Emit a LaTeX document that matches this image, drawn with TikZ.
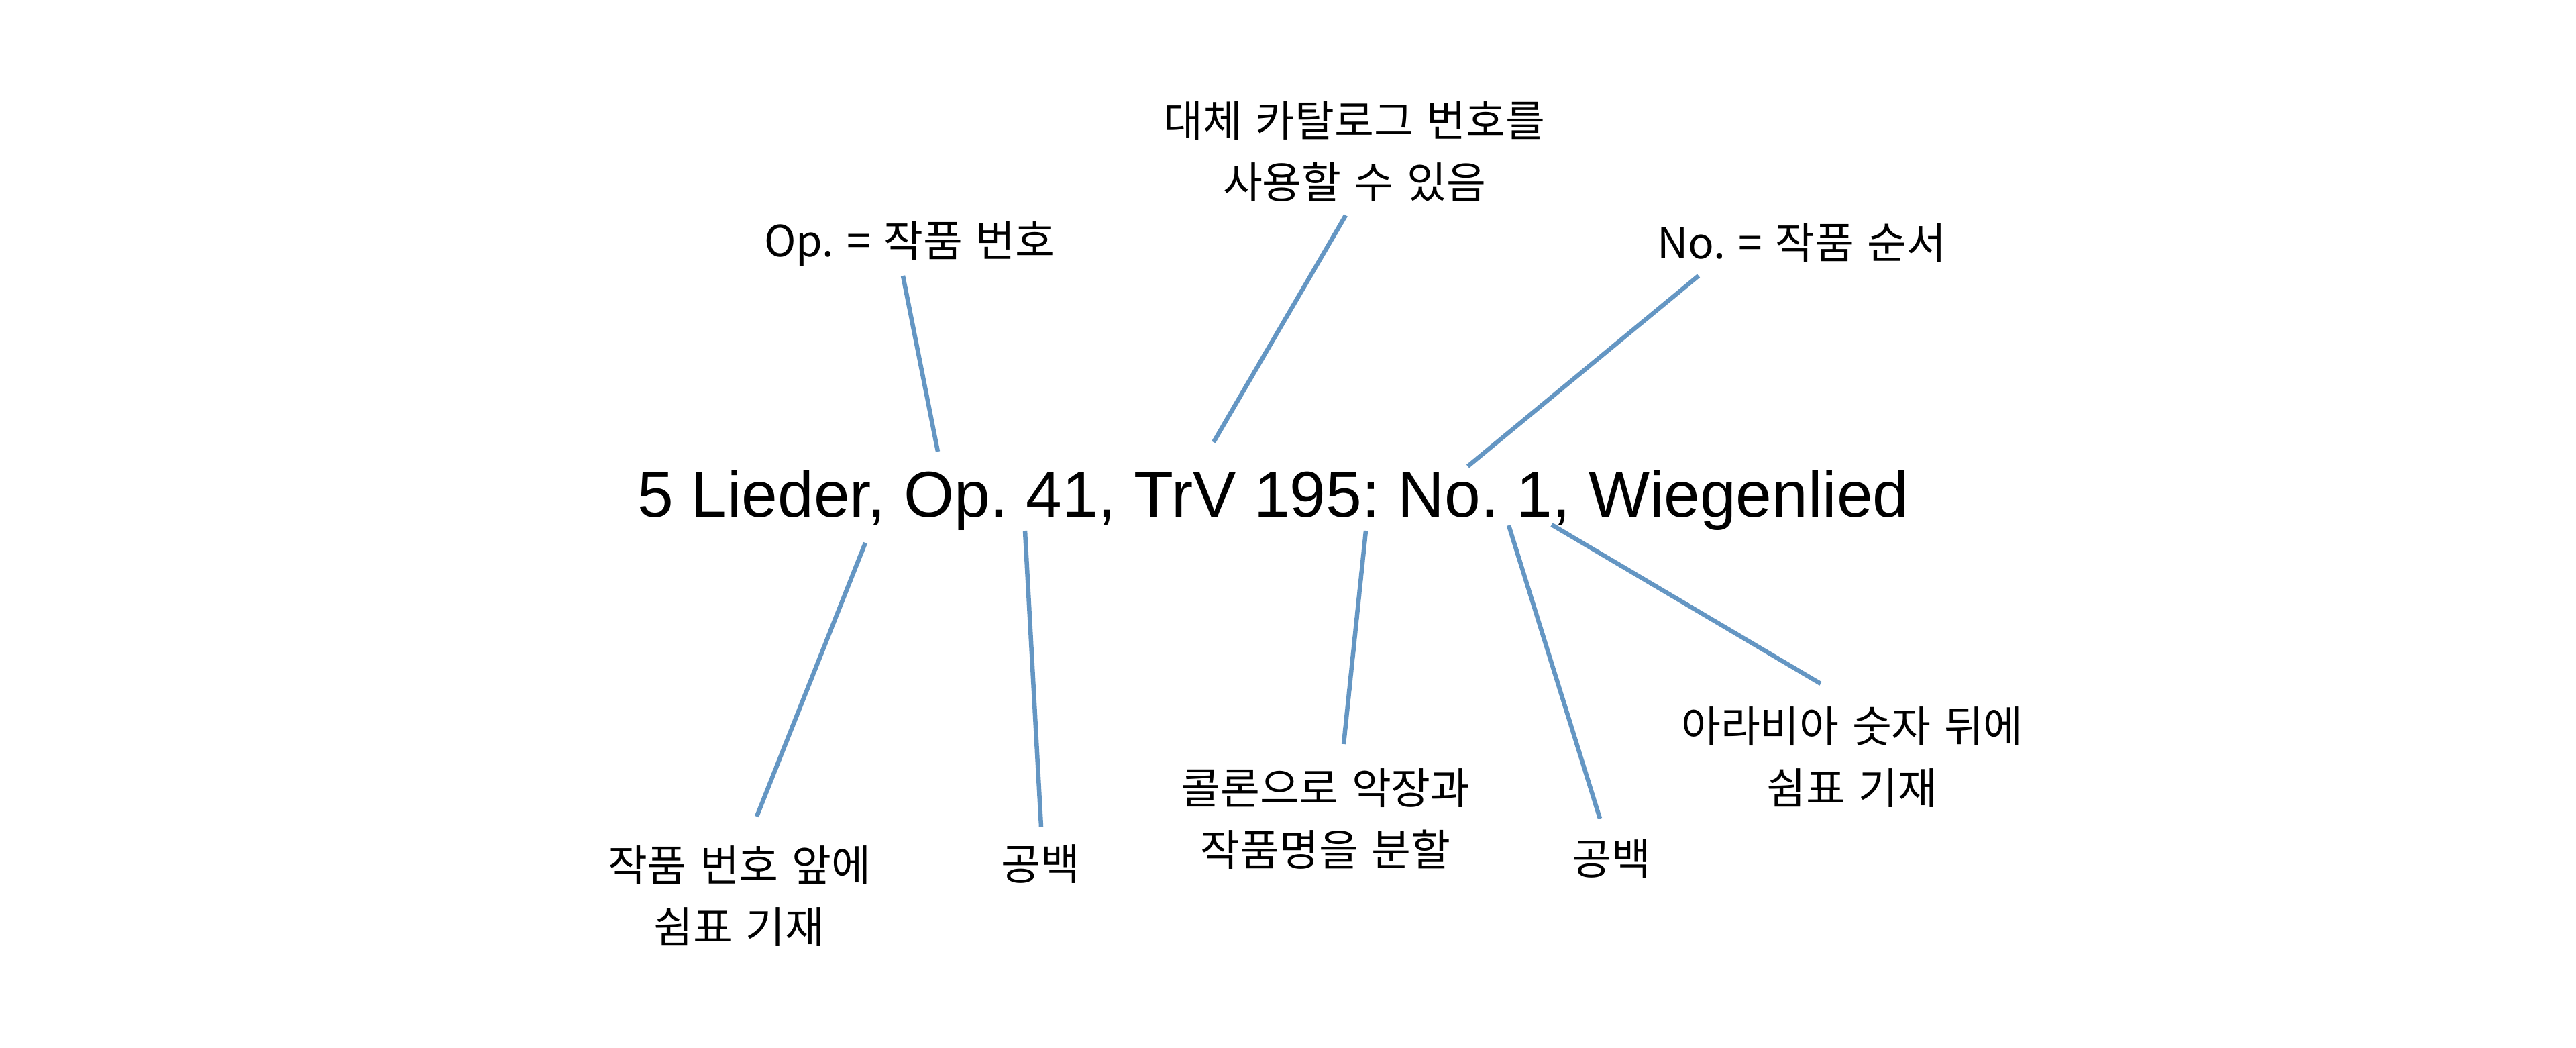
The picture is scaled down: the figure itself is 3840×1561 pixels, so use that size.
\documentclass[tikz,border=0pt]{standalone}
\usepackage{fontspec}
\setmainfont{Liberation Sans}
\newfontfamily\kofont[WordSpace=1.35]{Noto Sans CJK KR}
\definecolor{lineblue}{RGB}{100,150,195}
\frenchspacing
\tikzset{
  lbl/.style={inner sep=0pt, align=center, font=\kofont\fontsize{12.8pt}{18.4pt}\selectfont},
  conn/.style={draw=lineblue, line width=1.3pt},
}
\begin{document}
\begin{tikzpicture}[x=0.2pt,y=-0.2pt]
\useasboundingbox[fill=white] (0,0) rectangle (3840,1561);
% main title
\node[anchor=base, inner sep=0pt, font=\fontsize{19.3pt}{23pt}\selectfont] (title) at (1898,770) {5 Lieder, Op. 41, TrV 195: No. 1, Wiegenlied};
% labels
\node[lbl] (opl) at (1356,363) {Op. = 작품 번호};
\node[lbl] (catl) at (2019,226) {대체 카탈로그 번호를\\사용할 수 있음};
\node[lbl] (nol) at (2686,362) {No. = 작품 순서};
\node[lbl] (c1l) at (1102,1336) {작품 번호 앞에\\쉼표 기재};
\node[lbl] (s1l) at (1551,1288) {공백};
\node[lbl] (coll) at (1976,1221) {콜론으로 악장과\\작품명을 분할};
\node[lbl] (s2l) at (2402,1280) {공백};
\node[lbl] (c2l) at (2761,1129) {아라비아 숫자 뒤에\\쉼표 기재};
% connector ends
\coordinate (a1) at (1346,411); \coordinate (a2) at (1398,673);
\coordinate (b1) at (2006,321); \coordinate (b2) at (1809,659);
\coordinate (n1) at (2532,411); \coordinate (n2) at (2188,695);
\coordinate (d1) at (1290,809); \coordinate (d2) at (1128,1217);
\coordinate (e1) at (1528,791); \coordinate (e2) at (1552,1232);
\coordinate (f1) at (2036,791); \coordinate (f2) at (2003,1109);
\coordinate (g1) at (2249,783); \coordinate (g2) at (2385,1220);
\coordinate (h1) at (2313,782); \coordinate (h2) at (2714,1019);
\draw[conn] (a1) -- (a2);
\draw[conn] (b1) -- (b2);
\draw[conn] (n1) -- (n2);
\draw[conn] (d1) -- (d2);
\draw[conn] (e1) -- (e2);
\draw[conn] (f1) -- (f2);
\draw[conn] (g1) -- (g2);
\draw[conn] (h1) -- (h2);
\end{tikzpicture}
\end{document}
